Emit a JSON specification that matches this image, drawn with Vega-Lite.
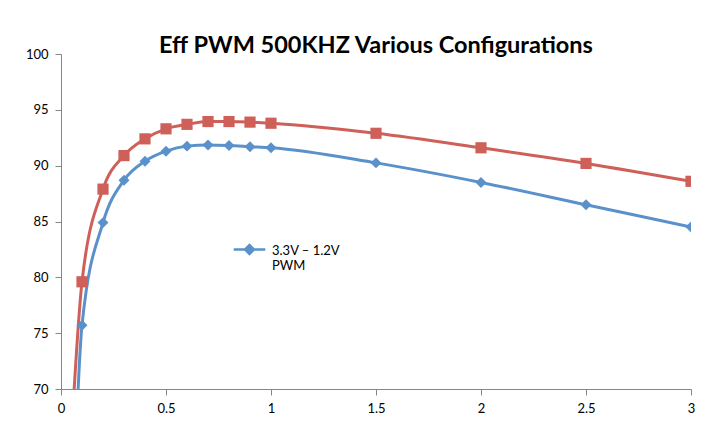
{
  "$schema": "https://vega.github.io/schema/vega-lite/v6.json",
  "width": 630,
  "height": 335,
  "autosize": "none",
  "padding": {"left": 61, "top": 54, "right": 36, "bottom": 39},
  "background": "white",
  "config": {
    "view": {"stroke": null},
    "font": "Lato",
    "axis": {
      "grid": false,
      "domainColor": "#868686",
      "tickColor": "#868686",
      "tickSize": 6,
      "labelFont": "Lato",
      "labelFontSize": 13,
      "labelColor": "#000000",
      "labelPadding": 7,
      "title": null
    }
  },
  "title": {
    "text": "Eff PWM 500KHZ Various Configurations",
    "font": "Lato",
    "fontSize": 23.5,
    "fontWeight": "bold",
    "color": "#000000",
    "anchor": "middle",
    "baseline": "alphabetic",
    "offset": -2,
    "dy": 26
  },
  "data": {
    "values": [
      {"series": "3.3V – 1.2V PWM", "x": 0.05, "y": 55},
      {"series": "3.3V – 1.2V PWM", "x": 0.1, "y": 75.7},
      {"series": "3.3V – 1.2V PWM", "x": 0.2, "y": 84.9},
      {"series": "3.3V – 1.2V PWM", "x": 0.3, "y": 88.7},
      {"series": "3.3V – 1.2V PWM", "x": 0.4, "y": 90.4},
      {"series": "3.3V – 1.2V PWM", "x": 0.5, "y": 91.3},
      {"series": "3.3V – 1.2V PWM", "x": 0.6, "y": 91.75},
      {"series": "3.3V – 1.2V PWM", "x": 0.7, "y": 91.85},
      {"series": "3.3V – 1.2V PWM", "x": 0.8, "y": 91.8},
      {"series": "3.3V – 1.2V PWM", "x": 0.9, "y": 91.7},
      {"series": "3.3V – 1.2V PWM", "x": 1.0, "y": 91.6},
      {"series": "3.3V – 1.2V PWM", "x": 1.5, "y": 90.25},
      {"series": "3.3V – 1.2V PWM", "x": 2.0, "y": 88.5},
      {"series": "3.3V – 1.2V PWM", "x": 2.5, "y": 86.5},
      {"series": "3.3V – 1.2V PWM", "x": 3.0, "y": 84.5},
      {"series": "Configuration 2", "x": 0.05, "y": 66},
      {"series": "Configuration 2", "x": 0.1, "y": 79.6},
      {"series": "Configuration 2", "x": 0.2, "y": 87.9},
      {"series": "Configuration 2", "x": 0.3, "y": 90.9},
      {"series": "Configuration 2", "x": 0.4, "y": 92.4},
      {"series": "Configuration 2", "x": 0.5, "y": 93.3},
      {"series": "Configuration 2", "x": 0.6, "y": 93.7},
      {"series": "Configuration 2", "x": 0.7, "y": 93.95},
      {"series": "Configuration 2", "x": 0.8, "y": 93.95},
      {"series": "Configuration 2", "x": 0.9, "y": 93.9},
      {"series": "Configuration 2", "x": 1.0, "y": 93.8},
      {"series": "Configuration 2", "x": 1.5, "y": 92.9},
      {"series": "Configuration 2", "x": 2.0, "y": 91.6},
      {"series": "Configuration 2", "x": 2.5, "y": 90.2},
      {"series": "Configuration 2", "x": 3.0, "y": 88.6}
    ]
  },
  "encoding": {
    "x": {
      "field": "x",
      "type": "quantitative",
      "scale": {"domain": [0, 3], "nice": false, "zero": false},
      "axis": {"values": [0, 0.5, 1, 1.5, 2, 2.5, 3], "labelFlush": false, "labelExpr": "datum.value"}
    },
    "y": {
      "field": "y",
      "type": "quantitative",
      "scale": {"domain": [70, 100], "nice": false, "zero": false},
      "axis": {"values": [70, 75, 80, 85, 90, 95, 100], "labelFlush": false}
    }
  },
  "resolve": {"scale": {"color": "independent"}, "legend": {"color": "independent"}},
  "layer": [
    {
      "mark": {"type": "line", "interpolate": "monotone", "strokeWidth": 3, "clip": true},
      "encoding": {
        "color": {
          "field": "series",
          "type": "nominal",
          "scale": {"domain": ["3.3V – 1.2V PWM", "Configuration 2"], "range": ["#5A91CB", "#CF5F59"]},
          "legend": {
            "values": ["3.3V – 1.2V PWM"],
            "title": null,
            "orient": "none",
            "legendX": 171,
            "legendY": 178,
            "symbolType": "M-1,0H1M-0.28,0L0,-0.28L0.28,0L0,0.28Z",
            "symbolSize": 1000,
            "symbolStrokeWidth": 2.5,
            "symbolFillColor": "#5A91CB",
            "symbolStrokeColor": "#5A91CB",
            "labelFont": "Lato",
            "labelFontSize": 13,
            "labelColor": "#000000",
            "labelLimit": 300,
            "labelOffset": 5,
            "labelBaseline": "alphabetic",
            "labelExpr": "['3.3V – 1.2V', 'PWM']",
            "encode": {
              "labels": {"update": {"dy": {"value": 5}}},
              "symbols": {"update": {
                "fill": {"value": "#5A91CB"},
                "stroke": {"value": "#5A91CB"}
              }}
            }
          }
        }
      }
    },
    {
      "mark": {"type": "point", "filled": true, "opacity": 1, "clip": true},
      "encoding": {
        "color": {
          "field": "series",
          "type": "nominal",
          "scale": {"domain": ["3.3V – 1.2V PWM", "Configuration 2"], "range": ["#5A91CB", "#CF5F59"]},
          "legend": null
        },
        "shape": {
          "field": "series",
          "type": "nominal",
          "scale": {"domain": ["3.3V – 1.2V PWM", "Configuration 2"], "range": ["diamond", "square"]},
          "legend": null
        },
        "size": {
          "field": "series",
          "type": "nominal",
          "scale": {"domain": ["3.3V – 1.2V PWM", "Configuration 2"], "range": [120, 125]},
          "legend": null
        }
      }
    }
  ]
}
